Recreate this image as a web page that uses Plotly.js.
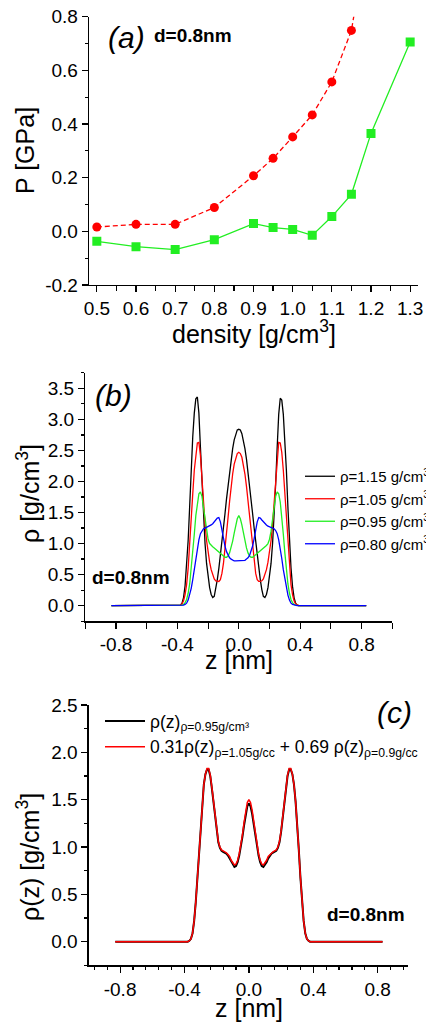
<!DOCTYPE html>
<html>
<head>
<meta charset="utf-8">
<script src="https://cdn.plot.ly/plotly-3.0.1.min.js"></script>
<style>html,body{margin:0;padding:0;background:#fff;}#chart{width:426px;height:1023px;}</style>
</head>
<body>
<div id="chart"></div>
<script>
// ---------- Panel (a): pressure vs density ----------
const densRed = [0.5, 0.6, 0.7, 0.8, 0.9, 0.95, 1.0, 1.05, 1.1, 1.15, 1.2];
const pRed    = [0.016, 0.026, 0.026, 0.089, 0.207, 0.272, 0.352, 0.434, 0.557, 0.749, 1.18];
const densGreen = [0.5, 0.6, 0.7, 0.8, 0.9, 0.95, 1.0, 1.05, 1.1, 1.15, 1.2, 1.3];
const pGreen    = [-0.037, -0.057, -0.068, -0.031, 0.029, 0.014, 0.007, -0.015, 0.055, 0.138, 0.365, 0.706];
const aXtickVals = [0.5, 0.6, 0.7, 0.8, 0.9, 1.0, 1.1, 1.2, 1.3];
const aXtickText = ['0.5', '0.6', '0.7', '0.8', '0.9', '1.0', '1.1', '1.2', '1.3'];
const aYtickVals = [-0.2, 0, 0.2, 0.4, 0.6, 0.8];
const aYtickText = ['-0.2', '0.0', '0.2', '0.4', '0.6', '0.8'];

// ---------- Panel (b): density profiles ----------
const zB = [-0.83,
 -0.40,-0.39,-0.38,-0.37,-0.36,-0.35,-0.34,-0.33,-0.32,-0.31,
 -0.30,-0.29,-0.28,-0.27,-0.26,-0.25,-0.24,-0.23,-0.22,-0.21,
 -0.20,-0.19,-0.18,-0.17,-0.16,-0.15,-0.14,-0.13,-0.12,-0.11,
 -0.10,-0.09,-0.08,-0.07,-0.06,-0.05,-0.04,-0.03,-0.02,-0.01,
 0.00,
 0.01,0.02,0.03,0.04,0.05,0.06,0.07,0.08,0.09,0.10,
 0.11,0.12,0.13,0.14,0.15,0.16,0.17,0.18,0.19,0.20,
 0.21,0.22,0.23,0.24,0.25,0.26,0.27,0.28,0.29,0.30,
 0.31,0.32,0.33,0.34,0.35,0.36,0.37,0.38,0.39,0.40,
 0.83];
const rho115 = [0,
 0.00,0.00,0.01,0.04,0.13,0.32,0.62,1.05,1.60,2.20,
 2.72,3.10,3.33,3.36,3.10,2.55,1.95,1.42,1.00,0.68,
 0.45,0.29,0.18,0.13,0.15,0.26,0.42,0.60,0.80,1.02,
 1.25,1.48,1.72,1.95,2.16,2.36,2.53,2.67,2.77,2.83,
 2.84,
 2.83,2.77,2.67,2.53,2.36,2.16,1.95,1.72,1.48,1.25,
 1.02,0.80,0.60,0.42,0.26,0.15,0.13,0.18,0.29,0.45,
 0.68,1.00,1.42,1.95,2.55,3.08,3.34,3.31,3.08,2.70,
 2.18,1.58,1.03,0.61,0.31,0.13,0.04,0.01,0.00,0.00,
 0];
const rho105 = [0,
 0.00,0.00,0.01,0.03,0.08,0.18,0.34,0.60,0.95,1.38,
 1.80,2.18,2.47,2.62,2.63,2.42,2.05,1.65,1.32,1.05,
 0.85,0.70,0.58,0.49,0.43,0.40,0.39,0.39,0.42,0.52,
 0.68,0.90,1.15,1.42,1.68,1.92,2.12,2.28,2.39,2.45,
 2.47,
 2.45,2.39,2.28,2.12,1.92,1.68,1.42,1.15,0.90,0.68,
 0.52,0.42,0.39,0.39,0.40,0.43,0.49,0.58,0.70,0.85,
 1.05,1.32,1.65,2.05,2.42,2.63,2.62,2.47,2.18,1.80,
 1.38,0.95,0.60,0.34,0.18,0.08,0.03,0.01,0.00,0.00,
 0];
const rho095 = [0,
 0.00,0.00,0.00,0.01,0.02,0.05,0.10,0.20,0.35,0.58,
 0.85,1.15,1.45,1.67,1.80,1.83,1.76,1.58,1.38,1.20,
 1.07,1.00,0.97,0.95,0.93,0.91,0.89,0.87,0.85,0.82,
 0.80,0.78,0.78,0.80,0.85,0.93,1.04,1.17,1.30,1.40,
 1.45,
 1.40,1.30,1.17,1.04,0.93,0.85,0.80,0.78,0.78,0.80,
 0.82,0.85,0.87,0.89,0.91,0.93,0.95,0.97,1.00,1.07,
 1.20,1.38,1.58,1.76,1.83,1.80,1.67,1.45,1.15,0.85,
 0.58,0.35,0.20,0.10,0.05,0.02,0.01,0.00,0.00,0.00,
 0];
const rho080 = [0,
 0.00,0.00,0.00,0.00,0.01,0.02,0.04,0.09,0.17,0.28,
 0.42,0.58,0.76,0.93,1.06,1.16,1.21,1.24,1.25,1.26,
 1.27,1.28,1.30,1.32,1.35,1.38,1.41,1.42,1.35,1.22,
 1.08,0.96,0.87,0.81,0.77,0.75,0.73,0.72,0.72,0.72,
 0.73,
 0.72,0.72,0.72,0.73,0.75,0.77,0.81,0.87,0.96,1.08,
 1.22,1.35,1.42,1.41,1.38,1.35,1.32,1.30,1.28,1.27,
 1.26,1.25,1.24,1.21,1.16,1.06,0.93,0.76,0.58,0.42,
 0.28,0.17,0.09,0.04,0.02,0.01,0.00,0.00,0.00,0.00,
 0];
const bXtickVals = [-0.8, -0.4, 0, 0.4, 0.8];
const bXtickText = ['-0.8', '-0.4', '0.0', '0.4', '0.8'];
const bYtickVals = [0, 0.5, 1.0, 1.5, 2.0, 2.5, 3.0, 3.5];
const bYtickText = ['0.0', '0.5', '1.0', '1.5', '2.0', '2.5', '3.0', '3.5'];
const bNames = ['ρ=1.15 g/cm<sup>3</sup>', 'ρ=1.05 g/cm<sup>3</sup>', 'ρ=0.95 g/cm<sup>3</sup>', 'ρ=0.80 g/cm<sup>3</sup>'];

// ---------- Panel (c): profile vs linear combination ----------
const zC = zB;
const rhoC095 = [0,
 0.00,0.00,0.00,0.01,0.03,0.09,0.22,0.42,0.68,0.97,
 1.25,1.48,1.66,1.77,1.82,1.82,1.75,1.62,1.46,1.30,
 1.16,1.05,0.99,0.96,0.95,0.94,0.93,0.91,0.88,0.84,
 0.81,0.79,0.80,0.84,0.91,1.00,1.11,1.23,1.35,1.43,
 1.46,
 1.43,1.35,1.23,1.11,1.00,0.91,0.84,0.80,0.79,0.81,
 0.84,0.88,0.91,0.93,0.94,0.95,0.96,0.99,1.05,1.16,
 1.30,1.46,1.62,1.75,1.82,1.82,1.77,1.66,1.48,1.25,
 0.97,0.68,0.42,0.22,0.09,0.03,0.01,0.00,0.00,0.00,
 0];
const rhoCmix = [0,
 0.00,0.00,0.00,0.01,0.03,0.09,0.22,0.42,0.68,0.97,
 1.25,1.48,1.66,1.77,1.83,1.83,1.76,1.63,1.47,1.31,
 1.17,1.06,1.00,0.97,0.96,0.95,0.94,0.92,0.90,0.86,
 0.83,0.81,0.82,0.86,0.93,1.02,1.13,1.26,1.39,1.47,
 1.50,
 1.47,1.39,1.26,1.13,1.02,0.93,0.86,0.82,0.81,0.83,
 0.86,0.90,0.92,0.94,0.95,0.96,0.97,1.00,1.06,1.17,
 1.31,1.47,1.63,1.76,1.83,1.83,1.77,1.66,1.48,1.25,
 0.97,0.68,0.42,0.22,0.09,0.03,0.01,0.00,0.00,0.00,
 0];
const cYtickVals = [0, 0.5, 1.0, 1.5, 2.0, 2.5];
const cYtickText = ['0.0', '0.5', '1.0', '1.5', '2.0', '2.5'];
const cNames = ['ρ(z)<sub>ρ=0.95g/cm³</sub>', '0.31ρ(z)<sub>ρ=1.05g/cc</sub> + 0.69 ρ(z)<sub>ρ=0.9g/cc</sub>'];

const FONT = 'Liberation Sans, Arial, Helvetica, sans-serif';
const W = 426, H = 1023;
const px2x = p => p / W;
const px2y = p => 1 - p / H;

const traces = [
  {x: densRed, y: pRed, xaxis: 'x', yaxis: 'y', mode: 'lines+markers', showlegend: false,
   line: {color: '#ff0000', width: 1.3, dash: '5px,3px'}, marker: {symbol: 'circle', size: 9, color: '#ff0000'}},
  {x: densGreen, y: pGreen, xaxis: 'x', yaxis: 'y', mode: 'lines+markers', showlegend: false,
   line: {color: '#22ee22', width: 1.3}, marker: {symbol: 'square', size: 9, color: '#22ee22'}},
  {x: zB, y: rho115, xaxis: 'x2', yaxis: 'y2', mode: 'lines', name: bNames[0], legend: 'legend', line: {color: '#000000', width: 1.3}},
  {x: zB, y: rho105, xaxis: 'x2', yaxis: 'y2', mode: 'lines', name: bNames[1], legend: 'legend', line: {color: '#ff0000', width: 1.3}},
  {x: zB, y: rho095, xaxis: 'x2', yaxis: 'y2', mode: 'lines', name: bNames[2], legend: 'legend', line: {color: '#22ee22', width: 1.3}},
  {x: zB, y: rho080, xaxis: 'x2', yaxis: 'y2', mode: 'lines', name: bNames[3], legend: 'legend', line: {color: '#0000ff', width: 1.3}},
  {x: zC, y: rhoC095, xaxis: 'x3', yaxis: 'y3', mode: 'lines', name: cNames[0], legend: 'legend2', line: {color: '#000000', width: 2}},
  {x: zC, y: rhoCmix, xaxis: 'x3', yaxis: 'y3', mode: 'lines', name: cNames[1], legend: 'legend2', line: {color: '#ff0000', width: 1.5}}
];

function axisBase(extra) {
  return Object.assign({
    showline: true, linecolor: '#000', linewidth: 1.3, mirror: false,
    showgrid: false, zeroline: false, ticks: 'outside', ticklen: 6, tickwidth: 1.2, tickcolor: '#000',
    tickangle: 0,
    tickfont: {family: FONT, size: 19, color: '#000'}, tickmode: 'array', automargin: false, fixedrange: true
  }, extra);
}

function label(text, x, y, size, angle) {
  return {xref: 'paper', yref: 'paper', x: px2x(x), y: px2y(y), text: text, showarrow: false,
    font: {family: FONT, size: size, color: '#000'}, xanchor: 'center', yanchor: 'middle', textangle: angle || 0};
}

const layout = {
  width: W, height: H,
  margin: {l: 0, r: 0, t: 0, b: 0, autoexpand: false},
  paper_bgcolor: '#fff', plot_bgcolor: 'rgba(0,0,0,0)',
  font: {family: FONT, color: '#000'},
  showlegend: true,
  xaxis: axisBase({domain: [px2x(89), px2x(418)], range: [0.48, 1.32], anchor: 'y',
    tickvals: aXtickVals, ticktext: aXtickText,
    minor: {tickmode: 'linear', tick0: 0.5, dtick: 0.05, ticks: 'outside', ticklen: 5, tickcolor: '#000'}}),
  yaxis: axisBase({domain: [px2y(285), px2y(16.7)], range: [-0.2, 0.8], anchor: 'x',
    tickvals: aYtickVals, ticktext: aYtickText,
    minor: {tickmode: 'linear', tick0: 0, dtick: 0.1, ticks: 'outside', ticklen: 3, tickcolor: '#000'}}),
  xaxis2: axisBase({domain: [px2x(85.3), px2x(392.3)], range: [-1, 1], anchor: 'y2',
    tickvals: bXtickVals, ticktext: bXtickText,
    minor: {tickmode: 'linear', tick0: 0, dtick: 0.2, ticks: 'outside', ticklen: 6, tickcolor: '#000'}}),
  yaxis2: axisBase({domain: [px2y(621.2), px2y(372.8)], range: [-0.25, 3.75], anchor: 'x2',
    tickvals: bYtickVals, ticktext: bYtickText,
    minor: {tickmode: 'linear', tick0: 0, dtick: 0.25, ticks: 'outside', ticklen: 3, tickcolor: '#000'}}),
  xaxis3: axisBase({domain: [px2x(88.7), px2x(408.3)], range: [-0.995, 0.99], anchor: 'y3',
    tickvals: bXtickVals, ticktext: bXtickText,
    minor: {tickmode: 'linear', tick0: -0.8, dtick: 0.08, ticks: 'outside', ticklen: 3, tickcolor: '#000'}}),
  yaxis3: axisBase({domain: [px2y(965.4), px2y(705)], range: [-0.25, 2.5], anchor: 'x3',
    tickvals: cYtickVals, ticktext: cYtickText,
    minor: {tickmode: 'linear', tick0: 0, dtick: 0.25, ticks: 'outside', ticklen: 3, tickcolor: '#000'}}),
  legend: {x: px2x(300), y: px2y(460), xanchor: 'left', yanchor: 'top', bgcolor: 'rgba(0,0,0,0)',
    font: {family: FONT, size: 15, color: '#000'}, tracegroupgap: 0, itemwidth: 30},
  legend2: {x: px2x(100), y: px2y(703), xanchor: 'left', yanchor: 'top', bgcolor: 'rgba(0,0,0,0)',
    font: {family: FONT, size: 17.5, color: '#000'}, tracegroupgap: 0, itemwidth: 40},
  annotations: [
    label('<i>(a)</i>', 126, 37.5, 30),
    label('<b>d=0.8nm</b>', 192.7, 36, 19),
    label('density [g/cm<sup>3</sup>]', 253.5, 332, 25),
    label('P [GPa]', 25, 151, 25, -90),
    label('<i>(b)</i>', 114, 395, 30),
    label('<b>d=0.8nm</b>', 130.8, 577, 19),
    label('z [nm]', 238.8, 660, 25),
    label('ρ [g/cm<sup>3</sup>]', 28, 494, 25, -90),
    label('<i>(c)</i>', 394, 712.7, 30),
    label('<b>d=0.8nm</b>', 366, 914.5, 19),
    label('z [nm]', 248.5, 1008, 25),
    label('ρ(z) [g/cm<sup>3</sup>]', 28, 857, 25, -90)
  ]
};

Plotly.newPlot('chart', traces, layout, {staticPlot: true, displayModeBar: false});
</script>
</body>
</html>
